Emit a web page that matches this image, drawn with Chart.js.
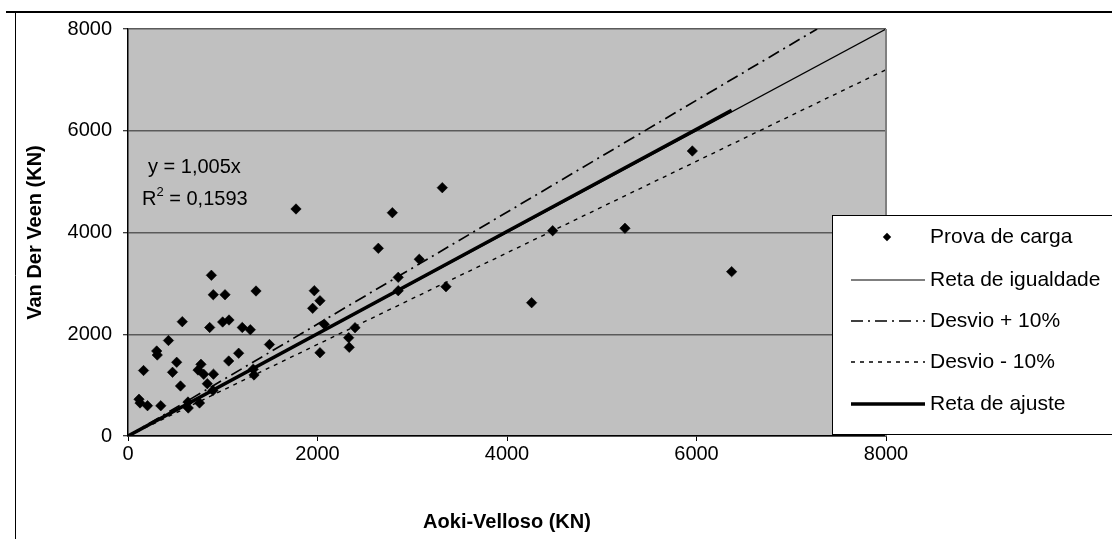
<!DOCTYPE html>
<html>
<head>
<meta charset="utf-8">
<script src="https://cdn.jsdelivr.net/npm/chart.js@4"></script>
<style>
  html, body { margin: 0; padding: 0; background: #ffffff; }
  #wrap { width: 1112px; height: 539px; position: relative; }
</style>
</head>
<body>
<div id="wrap"><canvas id="c" width="1112" height="539"></canvas></div>
<script>
// Pile capacity: Aoki-Velloso (x) vs Van Der Veen (y), in kN
const aokiVelloso = [116, 127, 164, 206, 303, 309, 346, 427, 470, 514, 554, 573, 633, 636, 739, 755, 770, 799, 837, 862,
  880, 897, 900, 902, 999, 1024, 1063, 1066, 1168, 1206, 1291, 1322, 1330, 1351, 1493, 1773, 1949, 1966, 2026, 2026,
  2072, 2329, 2335, 2396, 2642, 2790, 2852, 2852, 3074, 3317, 3356, 4260, 4482, 5245, 5956, 6371];
const vanDerVeen = [723, 649, 1287, 596, 1671, 1592, 594, 1877, 1252, 1449, 983, 2247, 668, 550, 1297, 649, 1409, 1213, 1028, 2133,
  3159, 894, 2777, 1215, 2241, 2777, 1474, 2280, 1627, 2133, 2089, 1313, 1199, 2850, 1798, 4462, 2510, 2856, 2659, 1637,
  2196, 1932, 1743, 2129, 3689, 4389, 3119, 2856, 3473, 4881, 2935, 2620, 4035, 4083, 5602, 3230];

// Reference lines (end points, kN)
const igualdadeX = [0, 8000];
const igualdadeY = [0, 8000];
const desvioMaisX = [0, 7273];
const desvioMaisY = [0, 8000];
const desvioMenosX = [0, 8000];
const desvioMenosY = [0, 7200];

// Least-squares fit through the origin
const slope = 1.005;
const r2 = 0.1593;

const axisTicks = [0, 2000, 4000, 6000, 8000];
const seriesNames = ['Prova de carga', 'Reta de igualdade', 'Desvio + 10%', 'Desvio - 10%', 'Reta de ajuste'];

const FONT = "'Liberation Sans', Arial, sans-serif";

const pts = (xs, ys) => xs.map((x, i) => ({ x: x, y: ys[i] }));
const xMaxData = Math.max.apply(null, aokiVelloso);
const ajuste = [{ x: 0, y: 0 }, { x: xMaxData, y: slope * xMaxData }];

const lineBase = { showLine: true, pointRadius: 0, pointHoverRadius: 0, fill: false, borderColor: '#000000', tension: 0 };
const MARKER_R = 5.2;

const datasets = [
  Object.assign({}, lineBase, { label: seriesNames[1], data: pts(igualdadeX, igualdadeY), borderWidth: 1.2 }),
  Object.assign({}, lineBase, { label: seriesNames[2], data: pts(desvioMaisX, desvioMaisY), borderWidth: 1.7, borderDash: [12, 5, 2, 5] }),
  Object.assign({}, lineBase, { label: seriesNames[3], data: pts(desvioMenosX, desvioMenosY), borderWidth: 1.4, borderDash: [4, 5] }),
  Object.assign({}, lineBase, { label: seriesNames[4], data: ajuste, borderWidth: 3.5 }),
  { label: seriesNames[0], data: pts(aokiVelloso, vanDerVeen), showLine: false,
    pointStyle: 'rectRot', pointRadius: MARKER_R, pointBorderWidth: 0.6,
    backgroundColor: '#000000', borderColor: '#000000' }
];

// Grey plot area, plot frame, outer chart frame, equation text and legend box
const decor = {
  id: 'decor',
  beforeDraw(chart) {
    const { ctx, chartArea: a } = chart;
    ctx.save();
    ctx.fillStyle = '#c0c0c0';
    ctx.fillRect(a.left, a.top, a.right - a.left, a.bottom - a.top);
    ctx.restore();
  },
  afterDraw(chart) {
    const { ctx, chartArea: a } = chart;
    ctx.save();
    // plot frame (right side)
    ctx.strokeStyle = '#808080';
    ctx.lineWidth = 2;
    ctx.beginPath();
    ctx.moveTo(a.right, a.top);
    ctx.lineTo(a.right, a.bottom);
    ctx.stroke();

    // outer chart frame
    ctx.strokeStyle = '#000000';
    ctx.lineWidth = 2;
    ctx.beginPath();
    ctx.moveTo(6, 12);
    ctx.lineTo(1112, 12);
    ctx.stroke();
    ctx.lineWidth = 1;
    ctx.beginPath();
    ctx.moveTo(15.5, 12);
    ctx.lineTo(15.5, 539);
    ctx.stroke();

    // equation of the fitted line
    ctx.fillStyle = '#000000';
    ctx.textBaseline = 'middle';
    ctx.textAlign = 'left';
    ctx.font = '20px ' + FONT;
    ctx.fillText('y = ' + slope.toFixed(3).replace('.', ',') + 'x', 148, 167);
    let x0 = 142;
    ctx.fillText('R', x0, 199);
    x0 += ctx.measureText('R').width;
    ctx.font = '13px ' + FONT;
    ctx.fillText('2', x0, 192);
    x0 += ctx.measureText('2').width;
    ctx.font = '20px ' + FONT;
    ctx.fillText(' = ' + r2.toFixed(4).replace('.', ','), x0, 199);

    // legend
    const box = { l: 832.5, t: 215.5, r: 1114, b: 434.5 };
    ctx.fillStyle = '#ffffff';
    ctx.fillRect(box.l, box.t, box.r - box.l, box.b - box.t);
    ctx.strokeStyle = '#000000';
    ctx.lineWidth = 1;
    ctx.strokeRect(box.l, box.t, box.r - box.l, box.b - box.t);

    const rows = [237, 280, 321, 362, 404];
    const order = [4, 0, 1, 2, 3];
    const sx0 = 851, sx1 = 925, tx = 930;
    order.forEach((di, i) => {
      const ds = chart.data.datasets[di];
      const y = rows[i];
      ctx.save();
      if (ds.showLine === false) {
        ctx.fillStyle = '#000000';
        const r = 4.2;
        const cx = 887;
        ctx.beginPath();
        ctx.moveTo(cx - r, y);
        ctx.lineTo(cx, y - r);
        ctx.lineTo(cx + r, y);
        ctx.lineTo(cx, y + r);
        ctx.closePath();
        ctx.fill();
      } else {
        ctx.strokeStyle = '#000000';
        ctx.lineWidth = ds.borderWidth;
        ctx.setLineDash(ds.borderDash || []);
        ctx.beginPath();
        ctx.moveTo(sx0, y);
        ctx.lineTo(sx1, y);
        ctx.stroke();
      }
      ctx.restore();
      ctx.fillStyle = '#000000';
      ctx.font = '21px ' + FONT;
      ctx.textBaseline = 'middle';
      ctx.textAlign = 'left';
      ctx.fillText(ds.label, tx, y);
    });
    ctx.restore();
  }
};

new Chart(document.getElementById('c'), {
  type: 'scatter',
  data: { datasets: datasets },
  options: {
    responsive: false,
    animation: false,
    devicePixelRatio: 1,
    layout: { padding: { left: 0, top: 29, right: 226, bottom: 0 } },
    plugins: { legend: { display: false }, tooltip: { enabled: false }, title: { display: false } },
    scales: {
      x: {
        type: 'linear', min: 0, max: 8000,
        afterBuildTicks(scale) { scale.ticks = axisTicks.map(v => ({ value: v })); },
        afterFit(scale) { scale.height = 103; },
        ticks: { color: '#000000', font: { family: FONT, size: 20 }, padding: 1, maxRotation: 0,
                 callback: v => String(v) },
        grid: { drawOnChartArea: false, drawTicks: true, tickLength: 5, tickColor: '#000000', tickWidth: 1 },
        border: { display: true, color: '#000000', width: 1.5 },
        title: { display: true, text: 'Aoki-Velloso (KN)', color: '#000000',
                 font: { family: FONT, size: 20, weight: 'bold' }, padding: { top: 0, bottom: 5 } }
      },
      y: {
        type: 'linear', min: 0, max: 8000,
        afterBuildTicks(scale) { scale.ticks = axisTicks.map(v => ({ value: v })); },
        afterFit(scale) { scale.width = 128; },
        ticks: { color: '#000000', font: { family: FONT, size: 20 }, padding: 11,
                 callback: v => String(v) },
        grid: { color: '#5a5a5a', lineWidth: 1.5, drawTicks: true, tickLength: 5, tickColor: '#000000', tickWidth: 1 },
        border: { display: true, color: '#000000', width: 1.5 },
        title: { display: true, text: 'Van Der Veen (KN)', color: '#000000',
                 font: { family: FONT, size: 20, weight: 'bold' }, padding: { top: 23, bottom: 0 } }
      }
    }
  },
  plugins: [decor]
});
</script>
</body>
</html>
